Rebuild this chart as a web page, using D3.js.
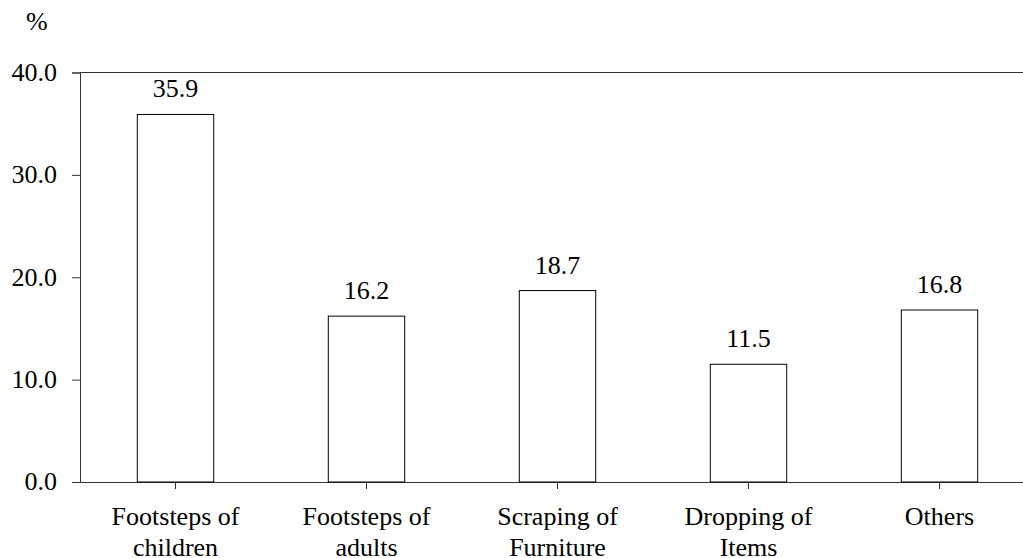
<!DOCTYPE html>
<html>
<head>
<meta charset="utf-8">
<script src="https://cdn.jsdelivr.net/npm/d3@7"></script>
<style>
    svg text { font-family: "Liberation Serif" !important; }
</style>
</head>
<body style="margin:0">
<script>
// Chart data
var categories = ["Footsteps of children", "Footsteps of adults",
    "Scraping of Furniture", "Dropping of Items", "Others"];
var labelLines = [["Footsteps of", "children"], ["Footsteps of", "adults"],
    ["Scraping of", "Furniture"], ["Dropping of", "Items"], ["Others"]];
var values = [35.9, 16.2, 18.7, 11.5, 16.8];
var yTicks = [0, 10, 20, 30, 40];

var width = 1023, height = 558;
var margin = {left: 80, top: 72.5, bottom: 482};
var font = "Liberation Serif";
var fontSize = "26px";

var svg = d3.select("body").append("svg")
    .attr("width", width)
    .attr("height", height)
    .style("font-family", "'" + font + "'", "important");

var x = d3.scaleBand()
    .domain(categories)
    .range([margin.left, 1035]);

var y = d3.scaleLinear()
    .domain([0, 40])
    .range([margin.bottom, margin.top]);

var barW = x.bandwidth() * 0.4;

// Serif text helper
function serif(sel) {
    return sel.attr("font-family", font)
        .style("font-family", "'" + font + "'", "important")
        .style("font-size", fontSize)
        .attr("fill", "#000");
}

// top line at 40
svg.append("line")
    .attr("x1", margin.left).attr("x2", 1035)
    .attr("y1", y(40)).attr("y2", y(40))
    .attr("stroke", "#333").attr("stroke-width", 1);

// Left axis
var yAxis = svg.append("g")
    .attr("transform", "translate(" + margin.left + ",0)")
    .call(d3.axisLeft(y).tickValues(yTicks).tickSize(8)
        .tickFormat(d3.format(".1f")).tickPadding(15))
    .attr("font-family", font)
    .attr("font-size", null);
yAxis.select(".domain").attr("stroke", "#333");
yAxis.selectAll(".tick line").attr("stroke", "#333");
serif(yAxis.selectAll("text")).attr("dy", "0.3em");

// Bottom axis
var xAxis = svg.append("g")
    .attr("transform", "translate(0," + margin.bottom + ")")
    .call(d3.axisBottom(x).tickSize(7).tickSizeOuter(0).tickFormat(""))
    .attr("font-family", font)
    .attr("font-size", null);
xAxis.select(".domain").attr("stroke", "#333");
xAxis.selectAll(".tick line").attr("stroke", "#333");
xAxis.selectAll(".tick text").remove();

// Category labels on two lines
xAxis.selectAll(".tick").each(function(d, i) {
    var tick = d3.select(this);
    labelLines[i].forEach(function(s, j) {
        serif(tick.append("text"))
            .attr("text-anchor", "middle")
            .attr("x", 0)
            .attr("y", 43 + j * 31)
            .text(s);
    });
});

// Bars
svg.selectAll(".bar")
    .data(values)
    .enter().append("rect")
    .attr("class", "bar")
    .attr("x", function(d, i) { return x(categories[i]) + (x.bandwidth() - barW) / 2; })
    .attr("y", function(d) { return y(d); })
    .attr("width", barW)
    .attr("height", function(d) { return y(0) - y(d); })
    .attr("fill", "#fff")
    .attr("stroke", "#000")
    .attr("stroke-width", 1);

// Value labels
serif(svg.selectAll(".val")
    .data(values)
    .enter().append("text"))
    .attr("class", "val")
    .attr("x", function(d, i) { return x(categories[i]) + x.bandwidth() / 2; })
    .attr("y", function(d) { return y(d) - 17; })
    .attr("text-anchor", "middle")
    .text(function(d) { return d.toFixed(1); });

// Unit
serif(svg.append("text"))
    .attr("x", 26)
    .attr("y", 30)
    .text("%");
</script>
</body>
</html>
